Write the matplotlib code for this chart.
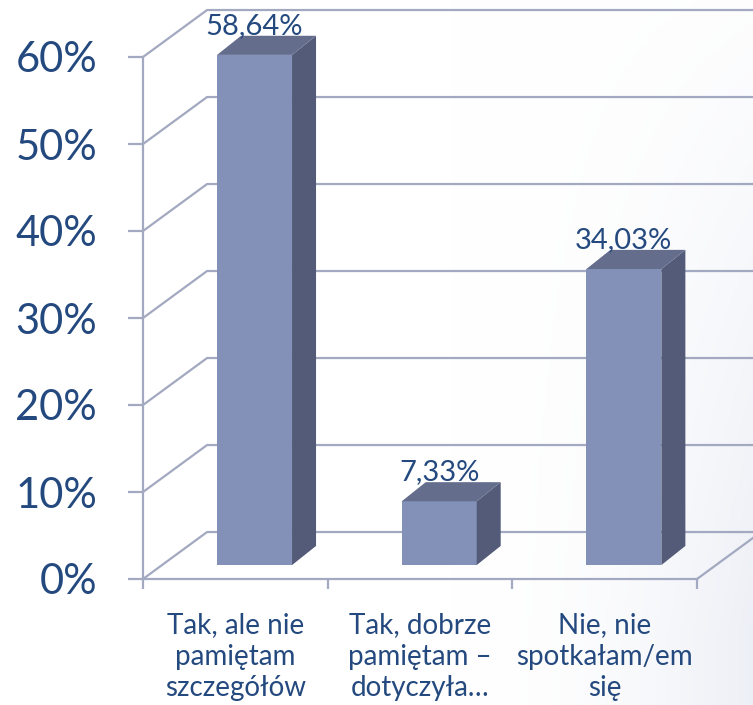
# 3D-style column chart (Excel look) drawn with plain polygons

import numpy as np
import matplotlib.pyplot as plt
from matplotlib.patches import Polygon

categories = ["Tak, ale nie\npamiętam\nszczegółów",
              "Tak, dobrze\npamiętam –\ndotyczyła…",
              "Nie, nie\nspotkałam/em\nsię"]
values = [58.64, 7.33, 34.03]
value_labels = ["58,64%", "7,33%", "34,03%"]
y_ticks = [0, 10, 20, 30, 40, 50, 60]
y_tick_labels = ["0%", "10%", "20%", "30%", "40%", "50%", "60%"]

text_color = "#24497F"
grid_color = "#A2A9C0"
front_color = "#8391B8"
side_color = "#535B78"
top_color = "#656D8D"

# depth offsets in data units
wall_dx, wall_dy = 0.347, 5.4
bar_off_x, bar_off_y = 0.104, 1.6
bar_w = 0.406
depth_dx, depth_dy = 0.13, 2.2

plt.rcParams['font.family'] = ['Lato', 'DejaVu Sans']

fig = plt.figure(figsize=(7.53, 7.05), dpi=100)

# faint bluish shade towards the lower right corner
bg = fig.add_axes([0, 0, 1, 1], zorder=-1)
gx, gy = np.meshgrid(np.linspace(0, 1, 200), np.linspace(0, 1, 200))
shade = np.clip((gx - 0.6) / 0.4, 0, 1) ** 2 * np.clip(gy + 0.1, 0, 1)
rgb = np.ones((200, 200, 3))
tint = np.array([0.93, 0.94, 0.965])
rgb = rgb * (1 - shade[..., None]) + tint * shade[..., None]
bg.imshow(rgb, extent=[0, 1, 0, 1], origin="upper", aspect="auto")
bg.axis("off")

ax = fig.add_axes([143 / 753, (705 - 579) / 705, 554 / 753, 522 / 705])
ax.set_xlim(0, 3)
ax.set_ylim(0, 60)
ax.patch.set_alpha(0)

n = len(categories)

# walls and gridlines
for y in y_ticks:
    ax.plot([0, wall_dx, n + wall_dx], [y, y + wall_dy, y + wall_dy],
            color=grid_color, lw=1.6, clip_on=False, zorder=1)
ax.plot([n, n + wall_dx], [0, wall_dy], color=grid_color, lw=1.6,
        clip_on=False, zorder=1)

# bars
for i, v in enumerate(values):
    x0 = i + 0.5 + bar_off_x - bar_w / 2
    x1 = x0 + bar_w
    y0 = bar_off_y
    y1 = bar_off_y + v
    front = Polygon([(x0, y0), (x1, y0), (x1, y1), (x0, y1)],
                    closed=True, fc=front_color, ec="none", zorder=3)
    side = Polygon([(x1, y0), (x1 + depth_dx, y0 + depth_dy),
                    (x1 + depth_dx, y1 + depth_dy), (x1, y1)],
                   closed=True, fc=side_color, ec="none", zorder=3)
    top = Polygon([(x0, y1), (x1, y1), (x1 + depth_dx, y1 + depth_dy),
                   (x0 + depth_dx, y1 + depth_dy)],
                  closed=True, fc=top_color, ec="none", zorder=3)
    for p in (front, side, top):
        p.set_clip_on(False)
        ax.add_patch(p)
    ax.text((x0 + x1) / 2, y1 + depth_dy + 0.2, value_labels[i],
            ha="center", va="baseline", fontsize=21, color=text_color,
            zorder=4)

# axes
for s in ("top", "right"):
    ax.spines[s].set_visible(False)
for s in ("left", "bottom"):
    ax.spines[s].set_color(grid_color)
    ax.spines[s].set_linewidth(1.6)
    ax.spines[s].set_zorder(2)

ax.set_yticks(y_ticks, y_tick_labels)
ax.tick_params(axis="y", length=11, width=1.6, color=grid_color, pad=22,
               labelsize=30, labelcolor=text_color)
ax.set_xticks(range(n + 1), [""] * (n + 1))
ax.tick_params(axis="x", which="major", length=7, width=1.6, color=grid_color)
ax.set_xticks([i + 0.5 for i in range(n)], categories, minor=True)
ax.tick_params(axis="x", which="minor", length=0, pad=24, labelsize=20,
               labelcolor=text_color)
for t in ax.get_xticklabels(minor=True):
    t.set_linespacing(1.25)

fig.savefig("out.png", dpi=100)
